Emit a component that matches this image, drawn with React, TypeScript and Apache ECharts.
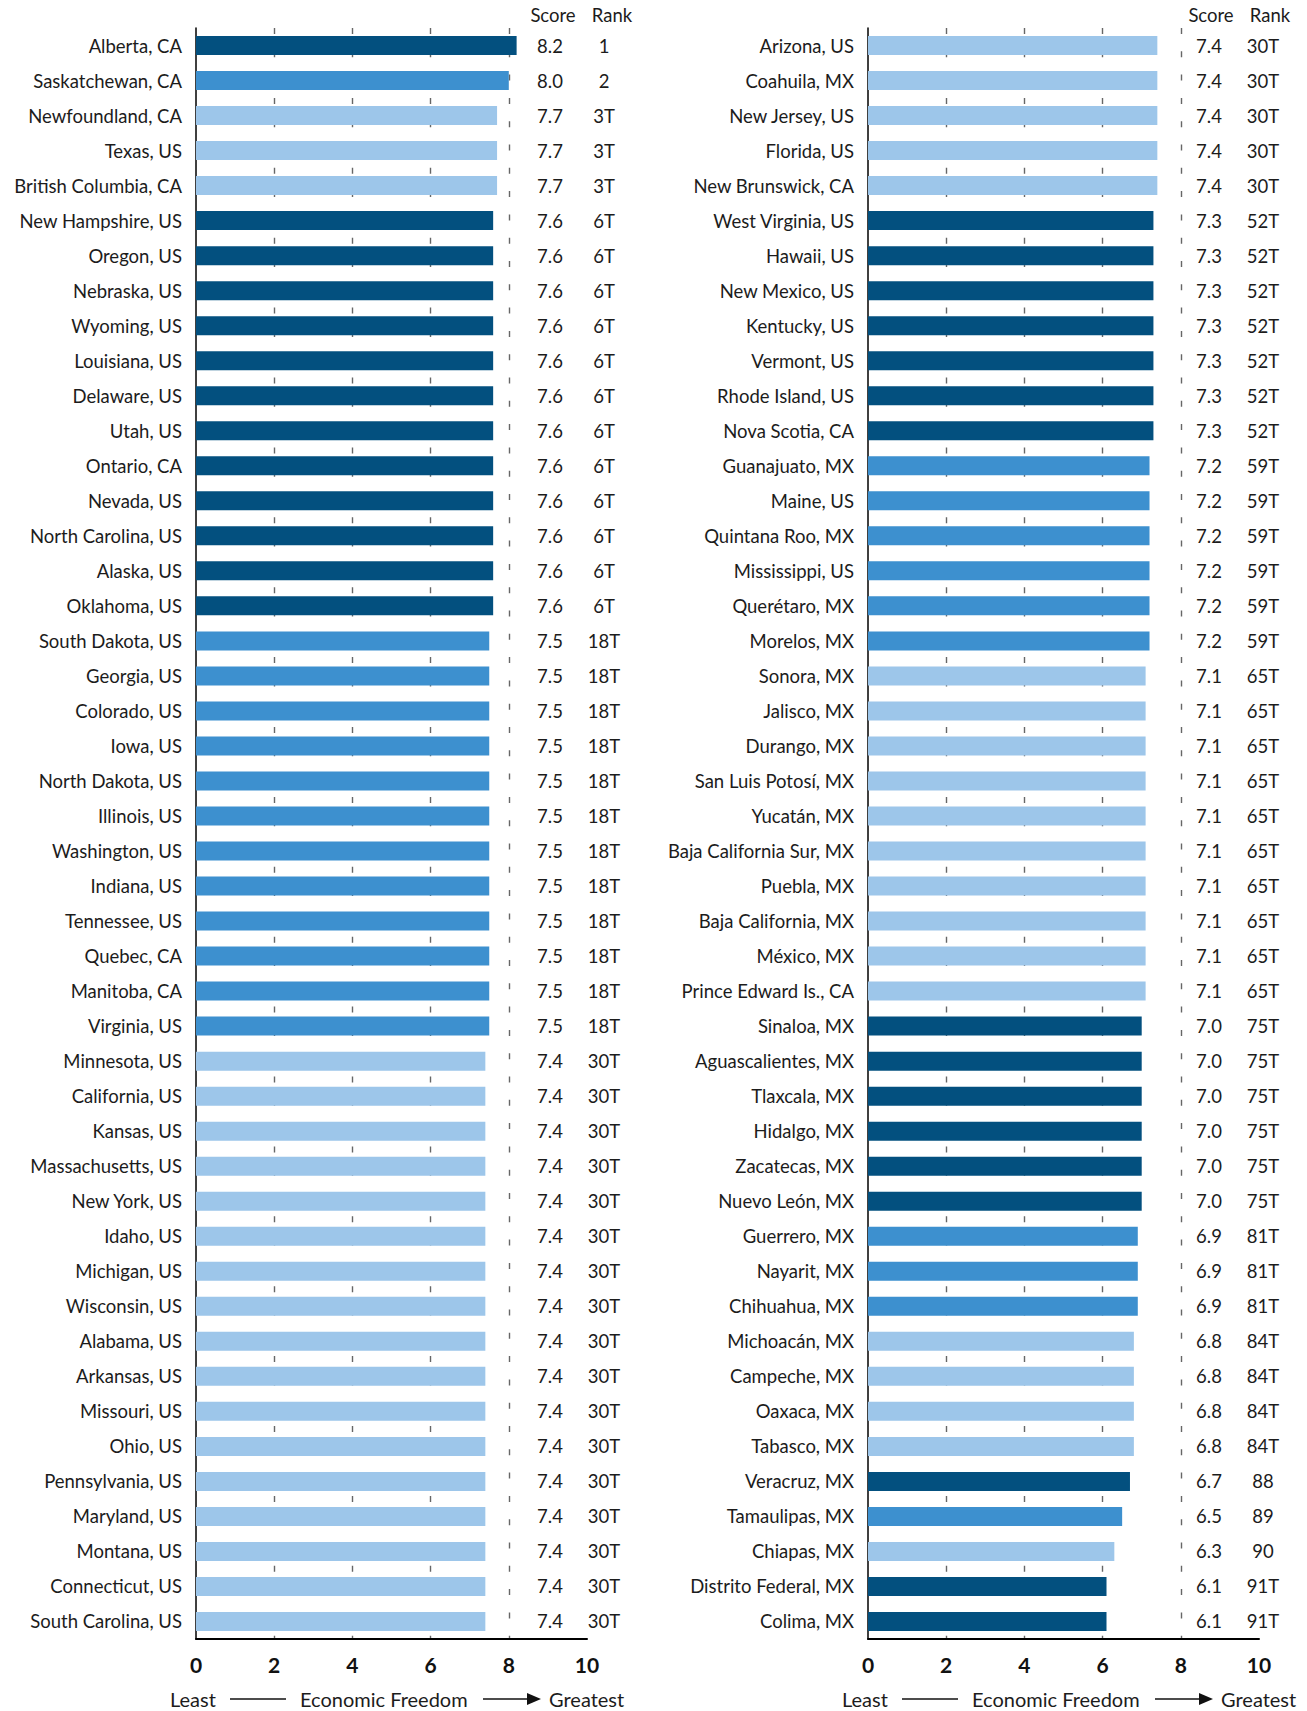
import React, { useEffect, useRef } from "react";
import * as echarts from "echarts";

const leftCategories = [
  "Alberta, CA", "Saskatchewan, CA", "Newfoundland, CA", "Texas, US", "British Columbia, CA",
  "New Hampshire, US", "Oregon, US", "Nebraska, US", "Wyoming, US", "Louisiana, US",
  "Delaware, US", "Utah, US", "Ontario, CA", "Nevada, US", "North Carolina, US",
  "Alaska, US", "Oklahoma, US", "South Dakota, US", "Georgia, US", "Colorado, US",
  "Iowa, US", "North Dakota, US", "Illinois, US", "Washington, US", "Indiana, US",
  "Tennessee, US", "Quebec, CA", "Manitoba, CA", "Virginia, US", "Minnesota, US",
  "California, US", "Kansas, US", "Massachusetts, US", "New York, US", "Idaho, US",
  "Michigan, US", "Wisconsin, US", "Alabama, US", "Arkansas, US", "Missouri, US",
  "Ohio, US", "Pennsylvania, US", "Maryland, US", "Montana, US", "Connecticut, US",
  "South Carolina, US",
];
const leftScores = [
  8.2, 8.0, 7.7, 7.7, 7.7,
  7.6, 7.6, 7.6, 7.6, 7.6, 7.6, 7.6, 7.6, 7.6, 7.6, 7.6, 7.6,
  7.5, 7.5, 7.5, 7.5, 7.5, 7.5, 7.5, 7.5, 7.5, 7.5, 7.5, 7.5,
  7.4, 7.4, 7.4, 7.4, 7.4, 7.4, 7.4, 7.4, 7.4, 7.4, 7.4, 7.4, 7.4, 7.4, 7.4, 7.4, 7.4,
];
const leftRanks = [
  "1", "2", "3T", "3T", "3T",
  "6T", "6T", "6T", "6T", "6T", "6T", "6T", "6T", "6T", "6T", "6T", "6T",
  "18T", "18T", "18T", "18T", "18T", "18T", "18T", "18T", "18T", "18T", "18T", "18T",
  "30T", "30T", "30T", "30T", "30T", "30T", "30T", "30T", "30T", "30T", "30T", "30T", "30T", "30T", "30T", "30T", "30T",
];

const rightCategories = [
  "Arizona, US", "Coahuila, MX", "New Jersey, US", "Florida, US", "New Brunswick, CA",
  "West Virginia, US", "Hawaii, US", "New Mexico, US", "Kentucky, US", "Vermont, US",
  "Rhode Island, US", "Nova Scotia, CA", "Guanajuato, MX", "Maine, US", "Quintana Roo, MX",
  "Mississippi, US", "Querétaro, MX", "Morelos, MX", "Sonora, MX", "Jalisco, MX",
  "Durango, MX", "San Luis Potosí, MX", "Yucatán, MX", "Baja California Sur, MX", "Puebla, MX",
  "Baja California, MX", "México, MX", "Prince Edward Is., CA", "Sinaloa, MX", "Aguascalientes, MX",
  "Tlaxcala, MX", "Hidalgo, MX", "Zacatecas, MX", "Nuevo León, MX", "Guerrero, MX",
  "Nayarit, MX", "Chihuahua, MX", "Michoacán, MX", "Campeche, MX", "Oaxaca, MX",
  "Tabasco, MX", "Veracruz, MX", "Tamaulipas, MX", "Chiapas, MX", "Distrito Federal, MX",
  "Colima, MX",
];
const rightScores = [
  7.4, 7.4, 7.4, 7.4, 7.4,
  7.3, 7.3, 7.3, 7.3, 7.3, 7.3, 7.3,
  7.2, 7.2, 7.2, 7.2, 7.2, 7.2,
  7.1, 7.1, 7.1, 7.1, 7.1, 7.1, 7.1, 7.1, 7.1, 7.1,
  7.0, 7.0, 7.0, 7.0, 7.0, 7.0,
  6.9, 6.9, 6.9,
  6.8, 6.8, 6.8, 6.8,
  6.7, 6.5, 6.3, 6.1, 6.1,
];
const rightRanks = [
  "30T", "30T", "30T", "30T", "30T",
  "52T", "52T", "52T", "52T", "52T", "52T", "52T",
  "59T", "59T", "59T", "59T", "59T", "59T",
  "65T", "65T", "65T", "65T", "65T", "65T", "65T", "65T", "65T", "65T",
  "75T", "75T", "75T", "75T", "75T", "75T",
  "81T", "81T", "81T",
  "84T", "84T", "84T", "84T",
  "88", "89", "90", "91T", "91T",
];

const xTicks = [0, 2, 4, 6, 8, 10];
const palette = ["#03507f", "#3d90cf", "#9dc6ea"];

const FONT = "Lato";
const TEXT = "#1c1c1c";

// color cycles through rank groups in order (dark, medium, light)
const allRanks = [...leftRanks, ...rightRanks];
const groupOrder: string[] = [];
allRanks.forEach((r) => {
  if (!groupOrder.includes(r)) groupOrder.push(r);
});
const colorOf = (r: string) => palette[groupOrder.indexOf(r) % 3];

const GRID_TOP = 28;
const GRID_H = 1611;
const GRID_W = 391;
const LEFTS = [196, 868];
const SCORE_POS = [354, 341];
const RANK_POS = [408, 395];

function panel(idx: number, cats: string[], scores: number[], ranks: string[]) {
  const left = LEFTS[idx];
  return {
    grid: { left, top: GRID_TOP, width: GRID_W, height: GRID_H },
    xAxis: {
      gridIndex: idx,
      type: "value",
      min: 0,
      max: 10,
      interval: 2,
      axisLine: { show: true, onZero: false, lineStyle: { color: "#000", width: 2 } },
      axisTick: { show: false },
      axisLabel: {
        margin: 15,
        fontFamily: FONT,
        fontSize: 21,
        fontWeight: "bold",
        color: "#111",
        formatter: (v: number) => (xTicks.includes(v) ? String(v) : ""),
      },
      splitLine: {
        show: true,
        showMinLine: false,
        showMaxLine: false,
        lineStyle: { color: "#666", width: 1.4, type: [6, 17.3] },
      },
    },
    yAxis: {
      gridIndex: idx,
      type: "category",
      data: cats,
      inverse: true,
      axisLine: { show: true, lineStyle: { color: "#000", width: 1.5 } },
      axisTick: { show: false },
      axisLabel: { margin: 14, fontFamily: FONT, fontSize: 18.5, color: TEXT },
      splitLine: { show: false },
    },
    series: [
      {
        type: "bar",
        xAxisIndex: idx,
        yAxisIndex: idx,
        barWidth: 19,
        data: scores.map((v, i) => ({ value: v, itemStyle: { color: colorOf(ranks[i]) } })),
        label: {
          show: true,
          position: [SCORE_POS[idx], "50%"],
          align: "center",
          verticalAlign: "middle",
          fontFamily: FONT,
          fontSize: 18.5,
          color: TEXT,
          formatter: (p: any) => Number(p.value).toFixed(1),
        },
      },
      {
        type: "bar",
        xAxisIndex: idx,
        yAxisIndex: idx,
        barWidth: 19,
        barGap: "-100%",
        silent: true,
        data: scores,
        itemStyle: { color: "rgba(0,0,0,0)" },
        label: {
          show: true,
          position: [RANK_POS[idx], "50%"],
          align: "center",
          verticalAlign: "middle",
          fontFamily: FONT,
          fontSize: 18.5,
          color: TEXT,
          formatter: (p: any) => ranks[p.dataIndex],
        },
      },
    ],
  };
}

function footer(x0: number) {
  const y = 1699;
  const st = { fontFamily: FONT, fontSize: 20, fill: TEXT, textVerticalAlign: "middle" };
  return [
    { type: "text", x: x0 - 26, y, style: { ...st, text: "Least", textAlign: "left" } },
    { type: "line", shape: { x1: x0 + 34, y1: y, x2: x0 + 90, y2: y }, style: { stroke: "#111", lineWidth: 1.5 } },
    { type: "text", x: x0 + 104, y, style: { ...st, text: "Economic Freedom", textAlign: "left" } },
    { type: "line", shape: { x1: x0 + 287, y1: y, x2: x0 + 333, y2: y }, style: { stroke: "#111", lineWidth: 1.5 } },
    {
      type: "polygon",
      shape: { points: [[x0 + 331, y - 6], [x0 + 345, y], [x0 + 331, y + 6]] },
      style: { fill: "#111" },
    },
    { type: "text", x: x0 + 353, y, style: { ...st, text: "Greatest", textAlign: "left" } },
  ];
}

function headers(x0: number, scoreX: number, rankX: number) {
  const st = { fontFamily: FONT, fontSize: 18.5, fill: TEXT, textVerticalAlign: "middle", textAlign: "center" };
  return [
    { type: "text", x: x0 + scoreX, y: 15, style: { ...st, text: "Score" } },
    { type: "text", x: x0 + rankX, y: 15, style: { ...st, text: "Rank" } },
  ];
}

export default function App() {
  const ref = useRef<HTMLDivElement>(null);
  useEffect(() => {
    document.body.style.margin = "0";
    if (!ref.current) return;
    const chart = echarts.init(ref.current, undefined, { renderer: "svg" });
    const p0 = panel(0, leftCategories, leftScores, leftRanks);
    const p1 = panel(1, rightCategories, rightScores, rightRanks);
    chart.setOption({
      animation: false,
      backgroundColor: "#ffffff",
      grid: [p0.grid, p1.grid],
      xAxis: [p0.xAxis, p1.xAxis],
      yAxis: [p0.yAxis, p1.yAxis],
      series: [...p0.series, ...p1.series],
      graphic: [
        ...headers(LEFTS[0], 357, 416),
        ...headers(LEFTS[1], 343, 402),
        ...footer(LEFTS[0]),
        ...footer(LEFTS[1]),
      ],
    });
    return () => chart.dispose();
  }, []);
  return <div ref={ref} style={{ width: 1307, height: 1711 }} />;
}
